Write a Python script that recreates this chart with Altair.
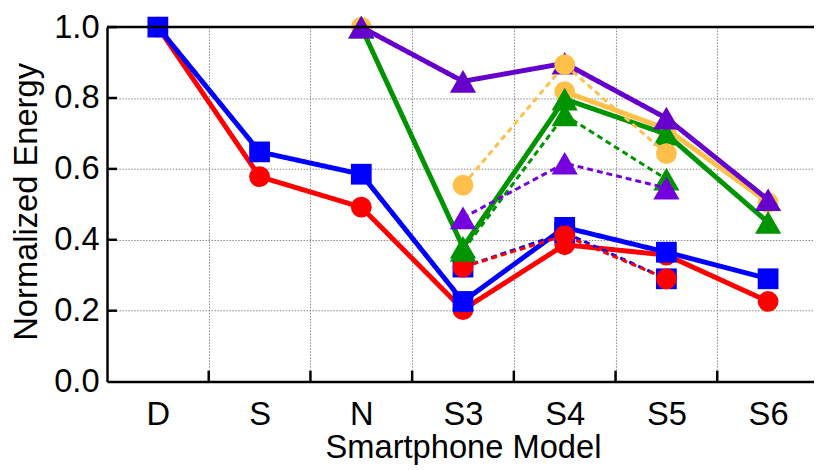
import altair as alt
import pandas as pd

models = ["D", "S", "N", "S3", "S4", "S5", "S6"]
red_solid = [1.0, 0.578, 0.492, 0.203, 0.386, 0.357, 0.226]
blue_solid = [1.0, 0.648, 0.585, 0.226, 0.435, 0.365, 0.290]
orange_solid = [None, None, 1.0, None, 0.818, 0.713, 0.505]
green_solid = [None, None, 1.0, 0.379, 0.797, 0.698, 0.449]
purple_solid = [None, None, 1.0, 0.847, 0.898, 0.743, 0.513]
red_dashed = [None, None, None, 0.323, 0.412, 0.290, None]
blue_dashed = [None, None, None, 0.323, 0.420, 0.290, None]
orange_dashed = [None, None, None, 0.554, 0.894, 0.643, None]
green_dashed = [None, None, None, 0.370, 0.752, 0.571, None]
purple_dashed = [None, None, None, 0.462, 0.616, 0.546, None]
y_ticks = [0.0, 0.2, 0.4, 0.6, 0.8, 1.0]

RED, BLUE, ORANGE, GREEN = "#ff0000", "#0000ff", "#ffc04a", "#009400"
PURPLE, PURPLE_D = "#6600cc", "#7300dd"

series = [
    (red_solid, RED, "circle", False),
    (blue_solid, BLUE, "square", False),
    (orange_solid, ORANGE, "circle", False),
    (green_solid, GREEN, "triangle-up", False),
    (purple_solid, PURPLE, "triangle-up", False),
    (blue_dashed, BLUE, "square", True),
    (red_dashed, RED, "circle", True),
    (orange_dashed, ORANGE, "circle", True),
    (green_dashed, GREEN, "triangle-up", True),
    (purple_dashed, PURPLE_D, "triangle-up", True),
]

FONT = "Liberation Sans, Arial, sans-serif"
W, H, RANGE_W = 714, 358, 719

x_enc = alt.X(
    "model:N",
    sort=models,
    scale=alt.Scale(type="band", domain=models, range=[0, RANGE_W], paddingInner=0, paddingOuter=0),
    axis=alt.Axis(
        title="Smartphone Model",
        labelAngle=0,
        ticks=False,
        tickBand="extent",
        grid=True,
        gridColor="#888888",
        gridDash=[1.5, 1.5],
        gridWidth=1,
        domainColor="black",
        domainWidth=2.5,
        labelPadding=17,
        titleY=77,
        titleBaseline="alphabetic",
    ),
)
y_scale = alt.Scale(domain=[0, 1], nice=False, zero=True)
y_enc = alt.Y(
    "value:Q",
    scale=y_scale,
    axis=alt.Axis(
        title="Normalized Energy",
        values=y_ticks,
        format=".1f",
        ticks=False,
        grid=True,
        gridColor="#888888",
        gridDash=[1.5, 1.5],
        gridWidth=1,
        domainColor="black",
        domainWidth=2.5,
        labelPadding=8,
        titleX=-71,
        titleY=176,
        titleBaseline="alphabetic",
        titleAngle=270,
    ),
)


def to_frame(vals):
    # break the line where a value is missing (segments)
    rows, seg = [], 0
    for m, v in zip(models, vals):
        if v is None:
            seg += 1
            continue
        rows.append({"model": m, "value": v, "seg": seg})
    return pd.DataFrame(rows)


layers = []
for vals, color, shape, dashed in series:
    df = to_frame(vals)
    base = alt.Chart(df)
    line = base.mark_line(
        color=color,
        strokeWidth=3 if dashed else 5,
        strokeDash=[6, 4] if dashed else [1, 0],
    ).encode(x=x_enc, y=y_enc, detail="seg:N")
    size = 700 if shape == "triangle-up" else 440
    pts = base.mark_point(
        shape=shape, filled=True, color=color, size=size, opacity=1, strokeWidth=0
    ).encode(x=x_enc, y=y_enc)
    layers += [line, pts]

# inward ticks on y axis
ytick_df = pd.DataFrame({"value": y_ticks[1:]})
ytick = alt.Chart(ytick_df).mark_rule(color="black", strokeWidth=2.5).encode(
    y=alt.Y("value:Q", scale=y_scale), x=alt.value(0), x2=alt.value(10)
)
# inward ticks on x axis at band boundaries
xtick_df = pd.DataFrame({"model": models[1:]})
xtick = alt.Chart(xtick_df).mark_rule(color="black", strokeWidth=2.5).encode(
    x=alt.X("model:N", sort=models, bandPosition=0),
    y=alt.value(H),
    y2=alt.value(H - 11),
)
# top frame
top_df = pd.DataFrame({"model": ["D"]})
top = alt.Chart(top_df).mark_rule(color="black", strokeWidth=2.5).encode(
    x=alt.value(0), x2=alt.value(RANGE_W), y=alt.value(0)
)

chart = (
    alt.layer(*layers, ytick, xtick, top)
    .properties(
        width=W,
        height=H,
        autosize=alt.AutoSizeParams(type="none"),
        padding={"left": 100, "top": 17, "right": 0, "bottom": 87},
    )
    .configure_view(stroke=None)
    .configure_axis(
        labelFont=FONT,
        titleFont=FONT,
        labelFontSize=33,
        titleFontSize=33,
        titleFontWeight="normal",
        labelColor="black",
        titleColor="black",
    )
)

chart.save("out.html", embed_options={"renderer": "svg", "actions": False})
